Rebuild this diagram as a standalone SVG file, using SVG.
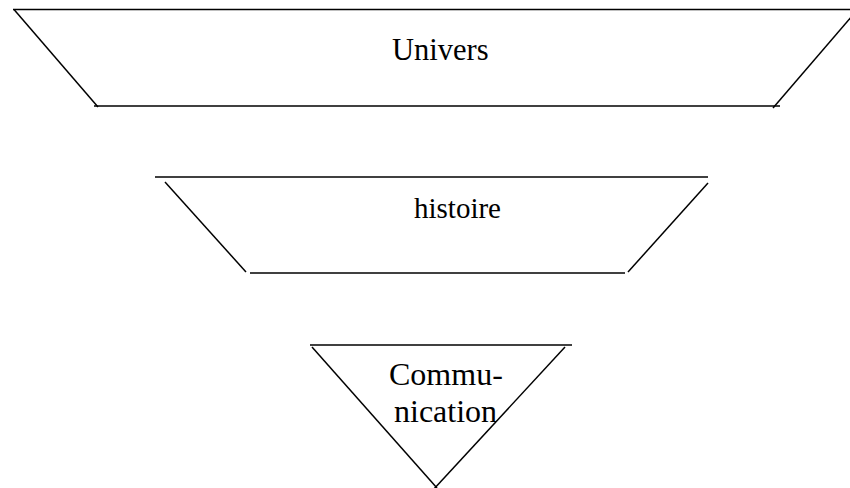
<svg xmlns="http://www.w3.org/2000/svg" width="850" height="488" viewBox="0 0 850 488">
<style>
.ln{stroke:#000;stroke-width:1.5;fill:none;stroke-linecap:butt}
.t{font-family:"Liberation Serif","Times New Roman",serif;font-size:30px;fill:#000}
</style>
<rect width="850" height="488" fill="#fff"/>
<g id="univers">
<line class="ln" x1="13" y1="9.5" x2="850" y2="9.5"/>
<line class="ln" x1="14" y1="9.5" x2="98" y2="107"/>
<line class="ln" x1="94" y1="106" x2="780" y2="106"/>
<line class="ln" x1="773" y1="108" x2="858" y2="9"/>
<text class="t" x="392" y="60" style="font-size:30.5px">Univers</text>
</g>
<g id="histoire">
<line class="ln" x1="155" y1="177" x2="708" y2="177"/>
<line class="ln" x1="165" y1="182" x2="246" y2="272"/>
<line class="ln" x1="250" y1="273" x2="625" y2="273"/>
<line class="ln" x1="628" y1="272" x2="708" y2="183"/>
<text class="t" x="414" y="218" style="font-size:29px">histoire</text>
</g>
<g id="communication">
<line class="ln" x1="310" y1="345" x2="572" y2="345"/>
<line class="ln" x1="312" y1="347" x2="437" y2="488"/>
<line class="ln" x1="565" y1="347" x2="433" y2="490"/>
<text class="t" x="389" y="385" style="font-size:32px">Commu-</text>
<text class="t" x="394" y="422" style="font-size:32px">nication</text>
</g>
<g id="connectors"/>
</svg>
